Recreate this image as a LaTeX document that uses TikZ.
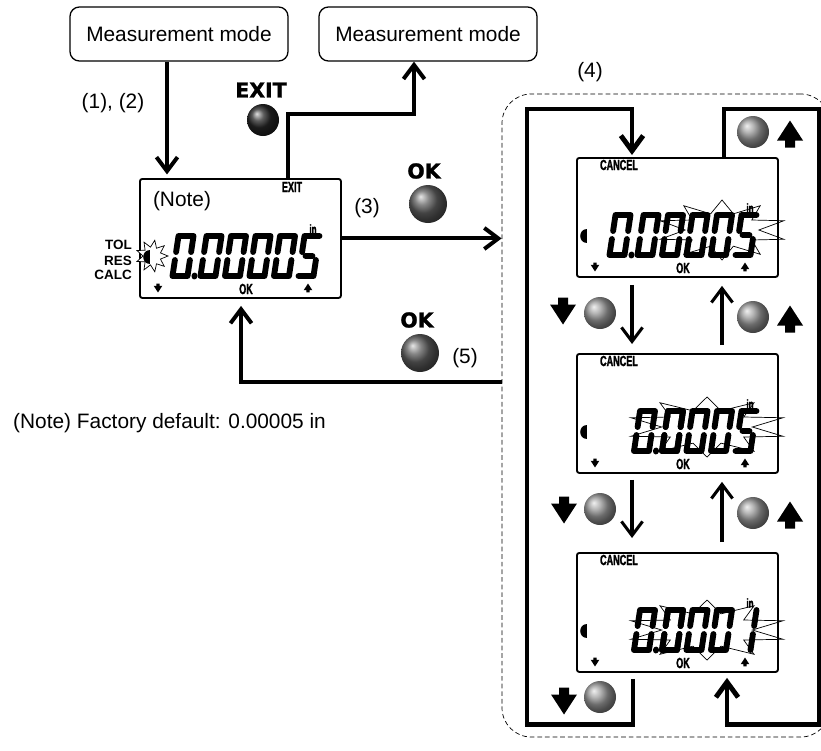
\documentclass[tikz,border=0pt]{standalone}
\usepackage{fontspec}
\setmainfont{Liberation Sans}
\newfontfamily\keyfont[FakeBold=1.2]{DejaVu Sans}
\newfontfamily\lcdfont[FakeStretch=0.62,FakeBold=1.5]{Liberation Sans}
\usetikzlibrary{arrows.meta,calc,positioning}

\begin{document}
\begin{tikzpicture}[x=0.03cm,y=-0.03cm,
		font=\fontsize{17.8}{20}\selectfont,
		modebox/.style={draw,line width=1.1pt,rounded corners=8pt,minimum width=6.54cm,minimum height=1.62cm,inner sep=0pt},
		lcdbox/.style={draw,line width=1.6pt,rounded corners=2pt,minimum width=6.03cm,minimum height=3.57cm,inner sep=0pt,anchor=north west},
		conn/.style={line width=3.4pt,-{Straight Barb[length=12pt,width=18pt]}},
		loopline/.style={line width=4.2pt,-{Straight Barb[length=13pt,width=19pt]}},
		stepline/.style={line width=2.6pt,-{Straight Barb[length=12pt,width=18pt]}},
		keylabel/.style={font=\keyfont\bfseries\fontsize{17.5}{18}\selectfont,inner sep=0pt},
		lcdlabel/.style={font=\lcdfont\bfseries\fontsize{12.5}{12}\selectfont,inner sep=0pt},
		unitlabel/.style={font=\lcdfont\bfseries\fontsize{11}{10}\selectfont,inner sep=0pt},
		side/.style={font=\bfseries\fontsize{11.5}{12}\selectfont,anchor=east,inner sep=0pt},
		blink/.style={line width=0.6pt},
		seg/.style={line width=5pt,line cap=round},
		sa/.style={insert path={(-7.5,-20) -- (7.5,-20)}},
		sb/.style={insert path={(7.5,-20) -- (7.5,-4)}},
		sc/.style={insert path={(7.5,4) -- (7.5,20)}},
		sd/.style={insert path={(-7.5,20) -- (7.5,20)}},
		se/.style={insert path={(-7.5,4) -- (-7.5,20)}},
		sf/.style={insert path={(-7.5,-20) -- (-7.5,-4)}},
		sg/.style={insert path={(-3.5,0) -- (3.5,0)}},
		sh/.style={insert path={(14.5,19.5) -- (14.5,20.5)}},
		dzero/.style={sa,sb,sc,sd,se,sf},
		dfive/.style={sa,sf,sg,sc,sd},
		done/.style={sb,sc},
		up key/.pic={\fill (0,-13.5) -- (13,6.5) -- (5,6.5) -- (5,13.5) -- (-5,13.5) -- (-5,6.5) -- (-13,6.5) -- cycle;},
		down key/.pic={\fill (0,13.5) -- (13,-6.5) -- (5,-6.5) -- (5,-13.5) -- (-5,-13.5) -- (-5,-6.5) -- (-13,-6.5) -- cycle;}]
	\clip (0,0) rectangle (821,750);
	
	% modes and the setting panel
	\node[modebox] (mode-in) at (179,34) {Measurement mode};
	\node[modebox] (mode-out) at (428,34) {Measurement mode};
	\node[draw,dash pattern=on 4pt off 2.5pt,line width=.6pt,rounded corners=25pt,minimum width=9.84cm,minimum height=19.29cm,inner sep=0pt] (panel) at (666,415.5) {};
	\node (lbl-4) at (590,72) {(4)};
	
	\node[lcdbox] (lcdM) at (139,178) {};
	\node[lcdbox] (lcdA) at (576,157) {};
	\node[lcdbox] (lcdB) at (576,353) {};
	\node[lcdbox] (lcdC) at (576,552) {};
	
	% keys outside the panel
	\node (lbl-12) at (113,103) {(1), (2)};
	\node[keylabel] (key-exit) at (261,90) {EXIT};
	\shade[ball color=black!85] (263,120) circle[radius=16];
	\node[keylabel] (key-ok) at (424,171) {OK};
	\shade[ball color=gray!75!black] (428,204) circle[radius=19];
	\node (lbl-3) at (367,208) {(3)};
	\node[keylabel] (key-ok2) at (417,320) {OK};
	\shade[ball color=gray!75!black] (420,353) circle[radius=19];
	\node (lbl-5) at (465,358) {(5)};
	\node[anchor=west,inner sep=0pt] (note) at (13,423) {(Note) Factory default: 0.00005 in};
	
	% connectors
	\draw[conn,shorten >=3pt] ($(mode-in.south)+(-12,0)$) -- ($(lcdM.north west)+(28,0)$);
	\draw[conn] ($(lcdM.north west)+(149,0)$) |- ($(mode-out.south)+(-14,52)$) -- ($(mode-out.south)+(-14,0)$);
	\draw[conn] (lcdM.east) -- (lcdM.east -| panel.west);
	\draw[conn,shorten >=6pt] ($(panel.west)+(0,-33.5)$) -| ($(lcdM.south west)+(102,0)$);
	
	\draw[loopline] ($(lcdC.south west)+(57,6)$) |- ($(lcdC.south west)+(-49,52)$) |- ($(lcdA.north west)+(56,-48)$) -- ($(lcdA.north west)+(56,-2)$);
	\draw[loopline] ($(lcdA.north west)+(148,0)$) |- ($(lcdA.north east)+(41,-48)$) |- ($(lcdC.south west)+(151,52)$) -- ($(lcdC.south west)+(151,5)$);
	\draw[stepline] ($(lcdA.south west)+(56,7)$) -- ($(lcdB.north west)+(56,-9)$);
	\draw[stepline] ($(lcdB.north west)+(146,-8)$) -- ($(lcdA.south west)+(146,8)$);
	\draw[stepline] ($(lcdB.south west)+(56,6)$) -- ($(lcdC.north west)+(56,-14)$);
	\draw[stepline] ($(lcdC.north west)+(146,-10)$) -- ($(lcdB.south west)+(146,8)$);
	
	% up and down keys in the panel
	\foreach \bx/\by in {753/132,600/313,753/317,600/509,753/513,600/697}
		\shade[ball color=gray!80] (\bx,\by) circle[radius=16];
	\foreach \kx/\ky in {790/134,790/319,790/515}
		\pic at (\kx,\ky) {up key};
	\foreach \kx/\ky in {563/311,564/510,564/701}
		\pic at (\kx,\ky) {down key};
	
	% main display
	\node (lcdM-note) at ($(lcdM.north west)+(43,23)$) {(Note)};
	\node[lcdlabel] (lcdM-exit) at ($(lcdM.north west)+(153,9)$) {EXIT};
	\node[side] (tol) at (132,245) {TOL};
	\node[side] (res) at (132,261) {RES};
	\node[side] (calc) at (132,275) {CALC};
	\filldraw[blink,fill=white,shift={($(lcdM.north west)+(13,78)$)}] (0:16)
		\foreach \a [evaluate=\a as \b using \a+20] in {20,60,...,340} {-- (\a:9) -- (\b:16)} -- cycle;
	
	\foreach \n in {lcdA,lcdB,lcdC}
		\node[lcdlabel] (\n-cancel) at ($(\n.north west)+(43,8)$) {CANCEL};
	
	\foreach \n in {lcdM,lcdA,lcdB,lcdC}{
		\begin{scope}[shift={(\n.north west)}]
			\fill (11,72) .. controls (2,72) and (2,86) .. (11,86) -- cycle;
			\pic[scale=.33] at (19,110) {down key};
			\node[lcdlabel] (\n-ok) at (107,111) {OK};
			\pic[scale=.33] at (169,110) {up key};
			\node[unitlabel] (\n-unit) at (174,51) {in};
		\end{scope}
	}
	
	% digits
	\foreach \n/\first/\second/\last in {lcdM/44/72/dfive,lcdA/44/72/dfive,lcdB/68.5/96.5/dfive,lcdC/68.5/96.5/done}{
		\begin{scope}[shift={(\n.north west)}]
			\draw[seg,shift={(\first,78)},xslant=.15,dzero,sh];
			\foreach \x in {\second,96.5,121,145.5}
				\draw[seg,shift={(\x,78)},xslant=.15,dzero];
			\draw[seg,shift={(170,78)},xslant=.15,\last];
		\end{scope}
	}
	
	% blinking digit marks
	\foreach \n/\cx/\cy/\rx [evaluate=\rx as \sx using \rx/30] in {lcdA/146/73/65,lcdB/131/74/80,lcdC/131/78/80}
		\draw[blink,shift={($(\n.north west)+(\cx,\cy)$)},xscale=\sx] (0:17)
			\foreach \a [evaluate=\a as \b using \a+18] in {18,54,...,342} {-- (\a:30) -- (\b:17)} -- cycle;
\end{tikzpicture}
\end{document}
